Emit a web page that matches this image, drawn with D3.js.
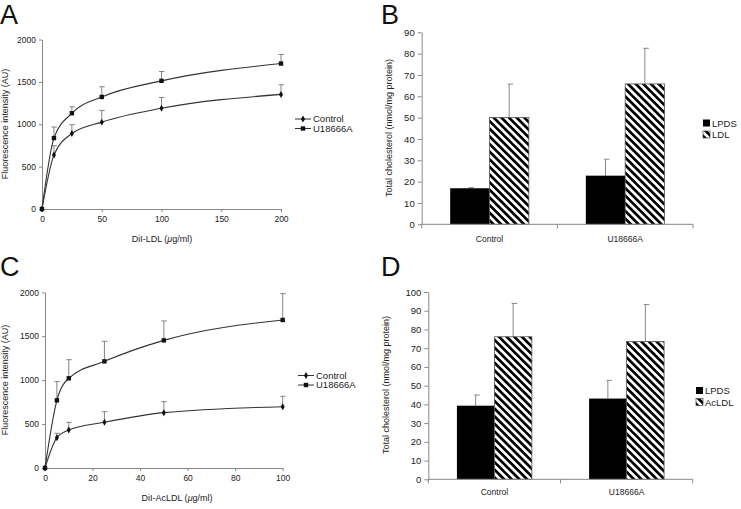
<!DOCTYPE html>
<html><head><meta charset="utf-8">
<script src="https://cdn.jsdelivr.net/npm/d3@7"></script>
<style>
body{margin:0;background:#fff;}
svg{font-family:"Liberation Sans",Arial,sans-serif;}
</style></head>
<body><svg id="c" width="741" height="509"></svg>
<script>
// ---- Data ----
const seriesNames = ["Control", "U18666A"];
// Panel A: DiI-LDL
const aDose = [0, 10, 25, 50, 100, 200];
const aControl = [0, 636, 890, 1025, 1188, 1352];
const aControlErr = [0, 110, 105, 138, 128, 114];
const aU = [0, 837, 1130, 1322, 1512, 1716];
const aUErr = [0, 130, 76, 120, 110, 107];
const aXTicks = [0, 50, 100, 150, 200];
const lineYTicks = [0, 500, 1000, 1500, 2000];
// Panel C: DiI-AcLDL
const cDose = [0, 5, 10, 25, 50, 100];
const cControl = [0, 345, 433, 520, 630, 698];
const cControlErr = [0, 50, 87, 121, 125, 118];
const cU = [0, 770, 1021, 1214, 1453, 1685];
const cUErr = [0, 213, 212, 228, 221, 300];
const cXTicks = [0, 20, 40, 60, 80, 100];
// Panel B
const barCats = ["Control", "U18666A"];
const bSeries = ["LPDS", "LDL"];
const bLPDS = [16.9, 22.8];
const bLPDSErr = [0.3, 7.7];
const bLDL = [50.1, 65.8];
const bLDLErr = [15.6, 16.7];
const bYTicks = [0,10,20,30,40,50,60,70,80,90];
// Panel D
const dSeries = ["LPDS", "AcLDL"];
const dLPDS = [39.3, 43.1];
const dLPDSErr = [5.7, 9.7];
const dAcLDL = [76.1, 73.6];
const dAcLDLErr = [17.8, 19.7];
const dYTicks = [0,10,20,30,40,50,60,70,80,90,100];

const svg = d3.select("#c");
const AX = "#888";
const TXT = "#222";

// hatch pattern
const defs = svg.append("defs");
const pat = defs.append("pattern").attr("id","hatch").attr("patternUnits","userSpaceOnUse")
  .attr("width",5.4).attr("height",5.4).attr("patternTransform","rotate(-45)");
pat.append("rect").attr("width",5.4).attr("height",5.4).attr("fill","#fff");
pat.append("rect").attr("width",2.7).attr("height",5.4).attr("fill","#000");

function letter(t,x,y){
  svg.append("text").attr("x",x).attr("y",y).attr("font-size",27).attr("fill","#111").text(t);
}

function styleAxis(g, fs){
  g.selectAll("path").attr("stroke",AX);
  g.selectAll("line").attr("stroke",AX);
  g.selectAll("text").attr("fill",TXT).attr("font-size",fs).attr("font-family","Liberation Sans, Arial, sans-serif");
}

function marker(g, type, x, y){
  if(type===0){
    g.append("path").attr("d",d3.symbol(d3.symbolDiamond,14)()).attr("transform",`translate(${x},${y})`).attr("fill","#111");
  } else {
    g.append("rect").attr("x",x-2.2).attr("y",y-2.2).attr("width",4.4).attr("height",4.4).attr("fill","#111");
  }
}

function linePanel(o){
  const x = d3.scaleLinear().domain([0,o.xmax]).range([o.x0,o.x1]);
  const y = d3.scaleLinear().domain([0,2000]).range([o.y0,o.y1]);
  const g = svg.append("g");
  const gx = g.append("g").attr("transform",`translate(0,${o.y0})`)
    .call(d3.axisBottom(x).tickValues(o.xticks).tickFormat(d3.format("d")).tickSize(3).tickSizeOuter(0).tickPadding(4));
  styleAxis(gx, 8.5);
  const gy = g.append("g").attr("transform",`translate(${o.x0},0)`)
    .call(d3.axisLeft(y).tickValues(lineYTicks).tickFormat(d3.format("d")).tickSize(3).tickSizeOuter(0).tickPadding(3));
  styleAxis(gy, 8.5);
  const series = [[o.c,o.ce],[o.u,o.ue]];
  series.forEach(([v,e],si)=>{
    o.dose.forEach((d,i)=>{
      if(e[i]<=0) return;
      const px = x(d), py = y(v[i]), pe = y(v[i]+e[i]);
      g.append("line").attr("x1",px).attr("x2",px).attr("y1",py).attr("y2",pe).attr("stroke","#777").attr("stroke-width",0.9);
      g.append("line").attr("x1",px-2.5).attr("x2",px+3).attr("y1",pe).attr("y2",pe).attr("stroke","#777").attr("stroke-width",0.9);
    });
    const line = d3.line().x((d,i)=>x(o.dose[i])).y(d=>y(d)).curve(d3.curveMonotoneX);
    g.append("path").attr("d",line(v)).attr("fill","none").attr("stroke","#333").attr("stroke-width",1.1);
    o.dose.forEach((d,i)=>marker(g,si,x(d),y(v[i])));
  });
  seriesNames.forEach((n,i)=>{
    const ly = o.ly + i*9.5;
    g.append("line").attr("x1",o.lx).attr("x2",o.lx+16).attr("y1",ly).attr("y2",ly).attr("stroke","#333").attr("stroke-width",1);
    marker(g,i,o.lx+8,ly);
    g.append("text").attr("x",o.lx+18).attr("y",ly+3.3).attr("font-size",9.5).attr("fill",TXT).text(n);
  });
  g.append("text").attr("x",o.tx).attr("y",o.ty).attr("text-anchor","middle").attr("font-size",9).attr("fill",TXT)
    .call(t=>{t.append("tspan").text(o.title+" ("); t.append("tspan").attr("font-style","italic").text("μ"); t.append("tspan").text("g/ml)");});
  g.append("text").attr("transform",`translate(${o.yx},${o.yy}) rotate(-90)`).attr("text-anchor","middle")
    .attr("font-size",9).attr("fill",TXT).text("Fluorescence intensity (AU)");
}

function barPanel(o){
  const x = d3.scaleBand().domain(barCats).range([o.x0,o.x1]).paddingInner(o.pad).paddingOuter(o.pad/2);
  const xs = d3.scaleBand().domain([0,1]).range([0,x.bandwidth()]);
  const y = d3.scaleLinear().domain([0,o.ymax]).range([o.y0,o.y1]);
  const g = svg.append("g");
  const gy = g.append("g").attr("transform",`translate(${o.x0},0)`)
    .call(d3.axisLeft(y).tickValues(o.yticks).tickSize(4).tickSizeOuter(0).tickPadding(3));
  styleAxis(gy, 9.5);
  const vals = [[o.v1,o.e1],[o.v2,o.e2]];
  vals.forEach(([v,e],si)=>{
    barCats.forEach((c,i)=>{
      const bx = x(c)+xs(si), bw = xs.bandwidth();
      const cx = bx + bw/2;
      g.append("line").attr("x1",cx).attr("x2",cx).attr("y1",y(v[i])).attr("y2",y(v[i]+e[i])).attr("stroke","#888").attr("stroke-width",1);
      g.append("line").attr("x1",cx-1.5).attr("x2",cx+4).attr("y1",y(v[i]+e[i])).attr("y2",y(v[i]+e[i])).attr("stroke","#888").attr("stroke-width",1);
      g.append("rect").attr("x",bx).attr("y",y(v[i])).attr("width",bw).attr("height",y(0)-y(v[i]))
        .attr("fill", si===0?"#000":"url(#hatch)").attr("stroke", si===0?"#000":"#555").attr("stroke-width",si===0?0:0.8);
    });
  });
  const gx = g.append("g").attr("transform",`translate(0,${o.y0})`);
  gx.append("line").attr("x1",o.x0).attr("x2",o.x1).attr("stroke",AX);
  [o.x0,(o.x0+o.x1)/2,o.x1].forEach(t=>gx.append("line").attr("x1",t).attr("x2",t).attr("y1",0).attr("y2",4).attr("stroke",AX));
  barCats.forEach(c=>gx.append("text").attr("x",x(c)+x.bandwidth()/2).attr("y",o.cy).attr("text-anchor","middle")
    .attr("font-size",8.5).attr("fill",TXT).text(c));
  o.series.forEach((n,i)=>{
    const ly = o.ly + i*11.5;
    g.append("rect").attr("x",o.lx).attr("y",ly-3.5).attr("width",7).attr("height",7)
      .attr("fill", i===0?"#000":"url(#hatch)").attr("stroke",i===0?"none":"#444").attr("stroke-width",0.7);
    g.append("text").attr("x",o.lx+9).attr("y",ly+3.5).attr("font-size",9.5).attr("fill",TXT).text(n);
  });
  g.append("text").attr("transform",`translate(${o.yx},${o.yy}) rotate(-90)`).attr("text-anchor","middle")
    .attr("font-size",9).attr("fill",TXT).text("Total cholesterol (nmol/mg protein)");
}

letter("A",0,24);
letter("B",381,24);
letter("C",0,276);
letter("D",381,276);

linePanel({x0:42,x1:281,y0:209,y1:39.5,xmax:200,xticks:aXTicks,dose:aDose,c:aControl,ce:aControlErr,u:aU,ue:aUErr,
  lx:295,ly:119,title:"DiI-LDL",tx:162,ty:242,yx:8,yy:124});
linePanel({x0:45,x1:282.7,y0:468,y1:292.3,xmax:100,xticks:cXTicks,dose:cDose,c:cControl,ce:cControlErr,u:cU,ue:cUErr,
  lx:298,ly:375.5,title:"DiI-AcLDL",tx:177,ty:501,yx:8,yy:380});
barPanel({x0:421.7,x1:693,y0:224.3,y1:32.3,ymax:90,yticks:bYTicks,pad:0.42,v1:bLPDS,e1:bLPDSErr,v2:bLDL,e2:bLDLErr,
  series:bSeries,lx:703,ly:123,cy:18,yx:392,yy:128});
barPanel({x0:428.3,x1:692.7,y0:479.3,y1:292,ymax:100,yticks:dYTicks,pad:0.433,v1:dLPDS,e1:dLPDSErr,v2:dAcLDL,e2:dAcLDLErr,
  series:dSeries,lx:696,ly:390.5,cy:16,yx:389,yy:385});
</script></body></html>
